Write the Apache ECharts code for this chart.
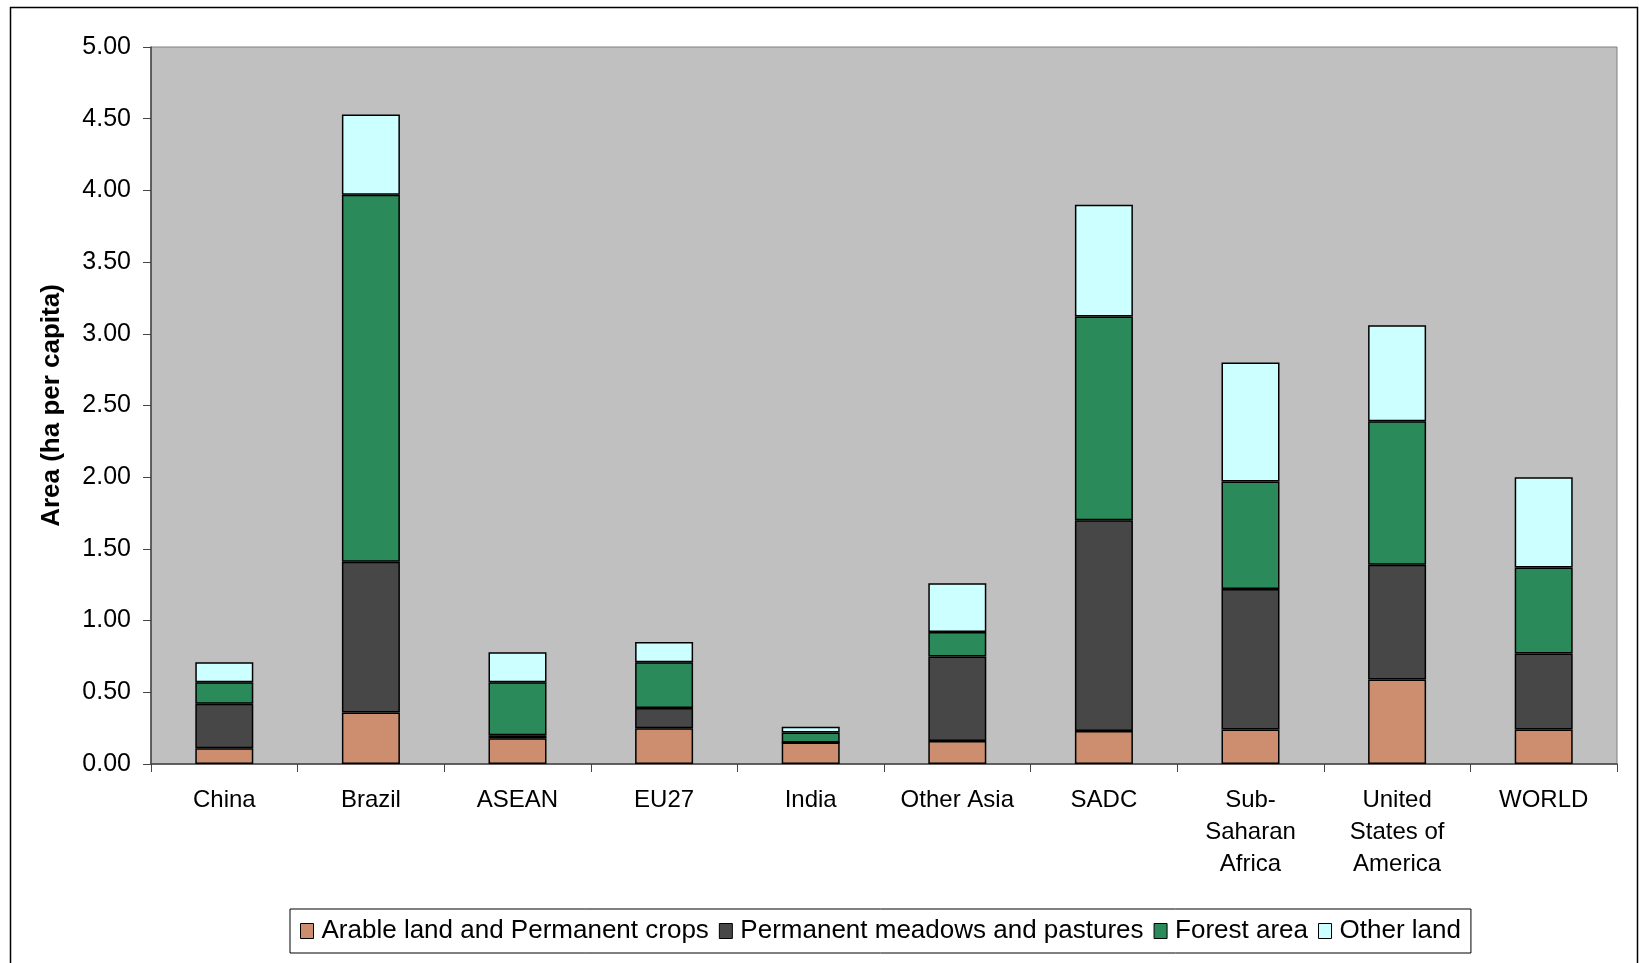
<!DOCTYPE html>
<html>
<head>
<meta charset="utf-8">
<title>Land area per capita</title>
<script src="https://cdn.jsdelivr.net/npm/echarts@6/dist/echarts.min.js"></script>
<style>
  html, body { margin: 0; padding: 0; background: #fff; }
  #chart { width: 1639px; height: 963px; }
</style>
</head>
<body>
<div id="chart"></div>
<script>
// regions on the x axis
const regions = ['China', 'Brazil', 'ASEAN', 'EU27', 'India', 'Other Asia', 'SADC',
  'Sub-\nSaharan\nAfrica', 'United\nStates of\nAmerica', 'WORLD'];

// ha per capita
const arableLand = [0.11, 0.36, 0.18, 0.25, 0.15, 0.16, 0.23, 0.24, 0.59, 0.24];
const meadowsPastures = [0.31, 1.05, 0.02, 0.14, 0.00, 0.59, 1.47, 0.98, 0.80, 0.53];
const forestArea = [0.15, 2.56, 0.37, 0.32, 0.07, 0.17, 1.42, 0.75, 1.00, 0.60];
const otherLand = [0.14, 0.56, 0.21, 0.14, 0.04, 0.34, 0.78, 0.83, 0.67, 0.63];

const font = '"Liberation Sans", Arial, sans-serif';

const chart = echarts.init(document.getElementById('chart'));

function layer(name, data, color) {
  return {
    name: name,
    type: 'bar',
    stack: 'area',
    data: data,
    barWidth: 58,
    itemStyle: { color: color, borderColor: '#000', borderWidth: 1.5 }
  };
}

const option = {
  animation: false,
  backgroundColor: '#fff',
  textStyle: { fontFamily: font },
  graphic: [{
    type: 'rect',
    left: 8, top: 5,
    shape: { width: 1627, height: 975 },
    style: { fill: 'none', stroke: '#000', lineWidth: 1.5 },
    z: -1
  }],
  grid: {
    left: 151, top: 47, right: 22, bottom: 199,
    show: true,
    backgroundColor: '#c0c0c0',
    borderColor: '#808080',
    borderWidth: 1
  },
  legend: {
    data: ['Arable land and Permanent crops', 'Permanent meadows and pastures', 'Forest area', 'Other land'],
    left: 290,
    top: 909,
    backgroundColor: '#fff',
    borderColor: '#000',
    borderWidth: 1,
    padding: [9, 10, 9, 10],
    icon: 'rect',
    itemWidth: 13,
    itemHeight: 15,
    itemGap: 10,
    textStyle: { fontSize: 26, color: '#000', fontFamily: font, padding: [0, 0, 0, 3] },
    itemStyle: { borderColor: '#000', borderWidth: 1 }
  },
  xAxis: {
    type: 'category',
    data: regions,
    axisLine: { lineStyle: { color: '#444', width: 1.5 } },
    axisTick: { show: true, length: 8, lineStyle: { color: '#444' } },
    axisLabel: {
      interval: 0,
      margin: 20,
      fontSize: 24,
      lineHeight: 32,
      color: '#000',
      fontFamily: font
    }
  },
  yAxis: {
    type: 'value',
    min: 0,
    max: 5,
    interval: 0.5,
    name: 'Area (ha per capita)',
    nameLocation: 'middle',
    nameGap: 86,
    nameTextStyle: { fontSize: 26, fontWeight: 'bold', color: '#000', fontFamily: font },
    axisLine: { show: true, lineStyle: { color: '#444', width: 1.5 } },
    axisTick: { show: true, length: 8, lineStyle: { color: '#444' } },
    splitLine: { show: false },
    axisLabel: {
      margin: 20,
      fontSize: 25,
      color: '#000',
      fontFamily: font,
      formatter: v => v.toFixed(2)
    }
  },
  series: [
    layer('Arable land and Permanent crops', arableLand, '#cc8e6f'),
    layer('Permanent meadows and pastures', meadowsPastures, '#474747'),
    layer('Forest area', forestArea, '#2a8a5a'),
    layer('Other land', otherLand, '#ccffff')
  ]
};

chart.setOption(option);
</script>
</body>
</html>
